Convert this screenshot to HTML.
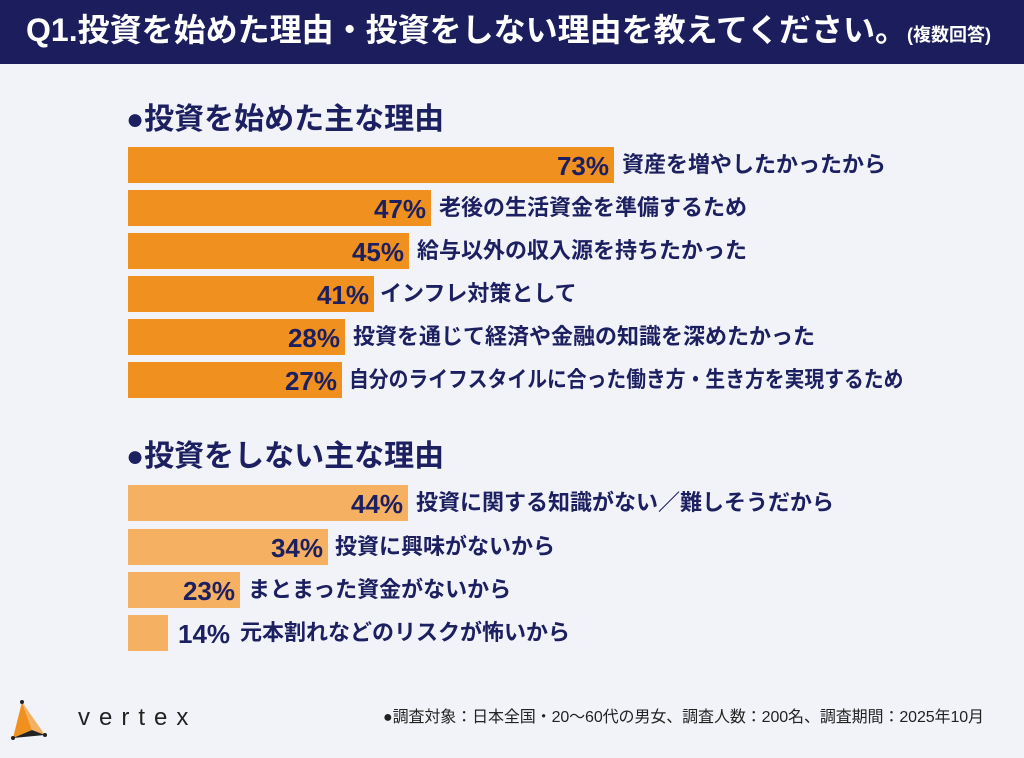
<!DOCTYPE html>
<html><head><meta charset="utf-8"><style>
*{margin:0;padding:0;box-sizing:border-box}
body{width:1024px;height:758px;background:#f2f3f9;position:relative;overflow:hidden;font-family:"Liberation Sans","Noto Sans CJK JP",sans-serif;color:#1d2060;font-weight:bold}
.hdr{position:absolute;left:0;top:0;width:1024px;height:64px;background:#1b1d5c;color:#fff}
.hdr .t{position:absolute;left:26px;top:10px;font-size:32px;line-height:40px;white-space:nowrap;letter-spacing:0}
.hdr .t small{font-size:18px;letter-spacing:0}
.h{position:absolute;left:126px;font-size:30px;line-height:36px;white-space:nowrap}
.bar{position:absolute;left:128px;height:36px}
.o{background:#f0901f}.l{background:#f5b061}
.p{position:absolute;font-size:26px;line-height:38px;text-align:right;width:80px;font-family:"Liberation Sans",sans-serif}
.lb{position:absolute;font-size:22px;line-height:36px;white-space:nowrap;transform-origin:left center}
.ft{position:absolute;left:383px;top:706px;font-size:16px;line-height:24px;white-space:nowrap;font-weight:normal;color:#222;letter-spacing:-0.1px}
.logo{position:absolute;left:78px;top:704px;font-size:24px;letter-spacing:9px;font-weight:normal;color:#222;font-family:"Liberation Sans",sans-serif}
</style></head><body>
<div class="hdr"><div class="t">Q1.投資を始めた理由・投資をしない理由を教えてください。<small>(複数回答)</small></div></div>
<div class="h" style="top:102px">●投資を始めた主な理由</div>

<div class="bar o" style="top:147px;width:486px"></div><div class="p" style="top:147px;left:529px">73%</div><div class="lb" style="top:147px;left:622px">資産を増やしたかったから</div>
<div class="bar o" style="top:190px;width:303px"></div><div class="p" style="top:190px;left:346px">47%</div><div class="lb" style="top:190px;left:439px">老後の生活資金を準備するため</div>
<div class="bar o" style="top:233px;width:281px"></div><div class="p" style="top:233px;left:324px">45%</div><div class="lb" style="top:233px;left:417px">給与以外の収入源を持ちたかった</div>
<div class="bar o" style="top:276px;width:246px"></div><div class="p" style="top:276px;left:289px">41%</div><div class="lb" style="top:276px;left:380px">インフレ対策として</div>
<div class="bar o" style="top:319px;width:217px"></div><div class="p" style="top:319px;left:260px">28%</div><div class="lb" style="top:319px;left:353px">投資を通じて経済や金融の知識を深めたかった</div>
<div class="bar o" style="top:362px;width:214px"></div><div class="p" style="top:362px;left:257px">27%</div><div class="lb" style="top:362px;left:349px;transform:scaleX(0.9)">自分のライフスタイルに合った働き方・生き方を実現するため</div>

<div class="h" style="top:439px">●投資をしない主な理由</div>
<div class="bar l" style="top:485px;width:280px"></div><div class="p" style="top:485px;left:323px">44%</div><div class="lb" style="top:485px;left:416px">投資に関する知識がない／難しそうだから</div>
<div class="bar l" style="top:529px;width:200px"></div><div class="p" style="top:529px;left:243px">34%</div><div class="lb" style="top:529px;left:335px">投資に興味がないから</div>
<div class="bar l" style="top:572px;width:112px"></div><div class="p" style="top:572px;left:155px">23%</div><div class="lb" style="top:572px;left:248px">まとまった資金がないから</div>
<div class="bar l" style="top:615px;width:40px"></div><div class="p" style="top:615px;left:178px;text-align:left">14%</div><div class="lb" style="top:615px;left:240px">元本割れなどのリスクが怖いから</div>

<svg style="position:absolute;left:10px;top:698px" width="40" height="48" viewBox="0 0 40 48">
<polygon points="12,4 3,40 22,32" fill="#f0901f"/><polygon points="12,4 22,32 35,37" fill="#f5b061"/><polygon points="3,40 22,32 35,37" fill="#222"/>
<circle cx="12" cy="4" r="2" fill="#222"/><circle cx="3" cy="40" r="2" fill="#222"/><circle cx="35" cy="37" r="2" fill="#222"/></svg>
<div class="logo">vertex</div>
<div class="ft">●調査対象：日本全国・20〜60代の男女、調査人数：200名、調査期間：2025年10月</div>
</body></html>
